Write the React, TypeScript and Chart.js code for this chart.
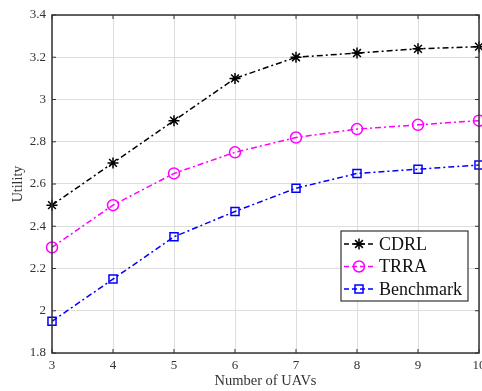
import React, { useEffect, useRef } from "react";
import { Chart, registerables } from "chart.js";

Chart.register(...registerables);

const xValues = [3, 4, 5, 6, 7, 8, 9, 10];
const cdrl = [2.5, 2.7, 2.9, 3.1, 3.2, 3.22, 3.24, 3.25];
const trra = [2.3, 2.5, 2.65, 2.75, 2.82, 2.86, 2.88, 2.9];
const benchmark = [1.95, 2.15, 2.35, 2.47, 2.58, 2.65, 2.67, 2.69];
const seriesNames = ["CDRL", "TRRA", "Benchmark"];
const xTitle = "Number of UAVs";
const yTitle = "Utility";

const FONT = "'Liberation Serif', 'Times New Roman', serif";
const DASH = [6, 3, 2, 3];

function drawMarker(ctx: CanvasRenderingContext2D, style: string, r: number, x: number, y: number) {
  ctx.beginPath();
  if (style === "circle") {
    ctx.arc(x, y, r, 0, Math.PI * 2);
  } else if (style === "rect") {
    const s = r * Math.SQRT1_2;
    ctx.rect(x - s, y - s, 2 * s, 2 * s);
  } else if (style === "star") {
    for (let k = 0; k < 4; k++) {
      const a = (k * Math.PI) / 4;
      ctx.moveTo(x - Math.cos(a) * r, y - Math.sin(a) * r);
      ctx.lineTo(x + Math.cos(a) * r, y + Math.sin(a) * r);
    }
  }
  ctx.stroke();
}

const boxPlugin = {
  id: "matlabBox",
  afterDraw(chart: any) {
    const { ctx, chartArea } = chart;
    const { left, right, top, bottom } = chartArea;
    ctx.save();
    ctx.strokeStyle = "#333";
    ctx.lineWidth = 1.5;
    ctx.setLineDash([]);
    ctx.strokeRect(left, top, right - left, bottom - top);
    ctx.lineWidth = 1;
    const xs = chart.scales.x;
    const ys = chart.scales.y;
    const tl = 4;
    ctx.beginPath();
    xs.ticks.forEach((t: any) => {
      const px = xs.getPixelForValue(t.value);
      ctx.moveTo(px, bottom);
      ctx.lineTo(px, bottom - tl);
      ctx.moveTo(px, top);
      ctx.lineTo(px, top + tl);
    });
    ys.ticks.forEach((t: any) => {
      const py = ys.getPixelForValue(t.value);
      ctx.moveTo(left, py);
      ctx.lineTo(left + tl, py);
      ctx.moveTo(right, py);
      ctx.lineTo(right - tl, py);
    });
    ctx.stroke();

    // legend
    const lx = 341, ly = 231, lw = 127, lh = 70;
    ctx.fillStyle = "#fff";
    ctx.fillRect(lx, ly, lw, lh);
    ctx.strokeStyle = "#333";
    ctx.lineWidth = 1.2;
    ctx.strokeRect(lx, ly, lw, lh);
    const rows = [244, 266.5, 289];
    chart.data.datasets.forEach((ds: any, i: number) => {
      const y = rows[i];
      ctx.save();
      ctx.strokeStyle = ds.borderColor;
      ctx.lineWidth = 1.5;
      ctx.setLineDash([5, 3]);
      ctx.beginPath();
      ctx.moveTo(344, y);
      ctx.lineTo(374, y);
      ctx.stroke();
      ctx.setLineDash([]);
      drawMarker(ctx, ds.pointStyle, ds.pointRadius, 359, y);
      ctx.restore();
      ctx.fillStyle = "#111";
      ctx.font = `18px ${FONT}`;
      ctx.textBaseline = "middle";
      ctx.textAlign = "left";
      ctx.fillText(ds.label, 379, y + 1);
    });
    ctx.restore();
  },
};

export default function App() {
  const ref = useRef<HTMLCanvasElement>(null);
  useEffect(() => {
    if (!ref.current) return;
    const mk = (label: string, data: number[], color: string, style: string, r: number) => ({
      label,
      data: xValues.map((x, i) => ({ x, y: data[i] })),
      borderColor: color,
      backgroundColor: "rgba(0,0,0,0)",
      borderWidth: 1.5,
      borderDash: DASH,
      pointStyle: style,
      pointRadius: r,
      pointBorderWidth: 1.5,
      pointBorderColor: color,
      pointBackgroundColor: "rgba(0,0,0,0)",
      tension: 0,
      clip: false as any,
    });
    const chart = new Chart(ref.current, {
      type: "line",
      data: {
        datasets: [
          mk(seriesNames[0], cdrl, "#000000", "star", 5.5),
          mk(seriesNames[1], trra, "#ff00ff", "circle", 5.5),
          mk(seriesNames[2], benchmark, "#0000ff", "rect", 5.7),
        ],
      },
      options: {
        animation: false,
        responsive: false,
        layout: { autoPadding: false, padding: { top: 15, right: 3, left: 0, bottom: 0 } },
        plugins: { legend: { display: false }, tooltip: { enabled: false } },
        scales: {
          x: {
            type: "linear",
            min: 3,
            max: 10,
            afterFit: (s: any) => {
              s.height = 38;
              s.paddingLeft = 0;
              s.paddingRight = 0;
            },
            ticks: {
              stepSize: 1,
              color: "#333",
              font: { family: FONT, size: 13 },
              padding: 5,
              maxRotation: 0,
              autoSkip: false,
            },
            grid: { color: "#dedede", lineWidth: 1, drawTicks: false },
            border: { display: false },
            title: {
              display: true,
              text: xTitle,
              color: "#333",
              font: { family: FONT, size: 14.5 },
              padding: { top: 0, bottom: 1 },
            },
          },
          y: {
            type: "linear",
            min: 1.8,
            max: 3.4,
            afterFit: (s: any) => {
              s.width = 52;
              s.paddingTop = 0;
              s.paddingBottom = 0;
            },
            ticks: {
              stepSize: 0.2,
              color: "#333",
              font: { family: FONT, size: 13 },
              padding: 6,
              callback: (v: any) => String(Number(Number(v).toFixed(1))),
            },
            grid: { color: "#dedede", lineWidth: 1, drawTicks: false },
            border: { display: false },
            title: {
              display: true,
              text: yTitle,
              color: "#333",
              font: { family: FONT, size: 14 },
              padding: { top: 10, bottom: 0 },
            },
          },
        },
      },
      plugins: [boxPlugin],
    });
    return () => chart.destroy();
  }, []);
  return (
    <div style={{ position: "fixed", left: 0, top: 0, width: 482, height: 391, background: "#fff" }}>
      <canvas ref={ref} width={482} height={391} style={{ width: 482, height: 391, display: "block" }} />
    </div>
  );
}
